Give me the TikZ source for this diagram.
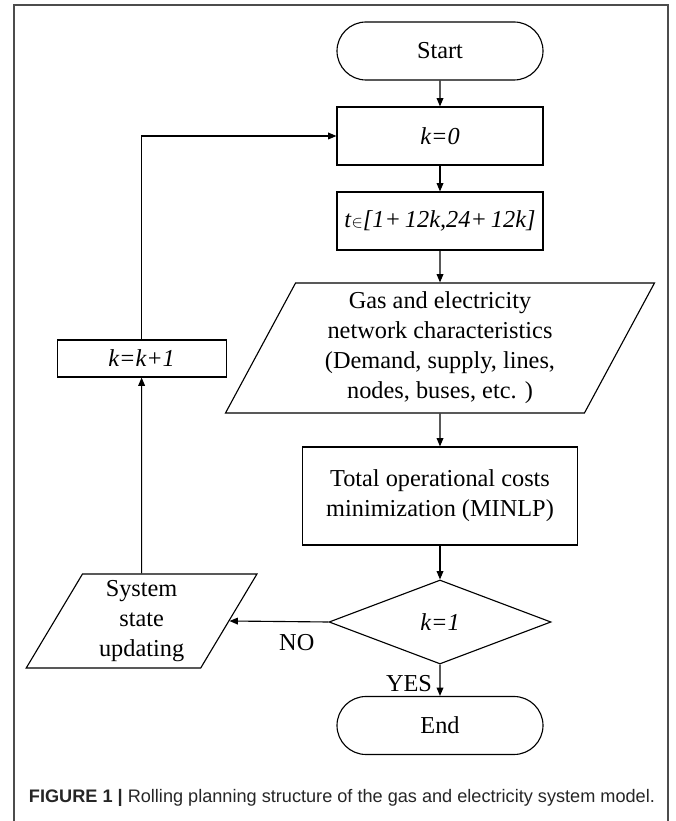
\documentclass[tikz,border=0pt]{standalone}
\usepackage{fontspec}
\setmainfont{Liberation Serif}
\newfontfamily\capfont{Liberation Sans}
\usetikzlibrary{shapes.geometric, shapes.misc, arrows.meta}

\tikzset{
  base/.style={draw, line width=0.8pt, align=center, inner sep=0pt,
    font=\fontsize{17.3}{21.3}\selectfont},
  terminal/.style={base, rounded rectangle, minimum width=5.15cm, minimum height=1.45cm},
  box/.style={base, rectangle, minimum width=5.15cm, minimum height=1.45cm},
  data/.style={base, trapezium, trapezium left angle=63.5, trapezium right angle=116.5,
    trapezium stretches=true},
  decision/.style={base, diamond, minimum width=5.55cm, minimum height=2.1cm},
  flow/.style={line width=0.8pt, -{Triangle[length=2.1mm, width=1.7mm]}}
}

\begin{document}
\begin{tikzpicture}
    \useasboundingbox (0,0) rectangle (16.875,20.525);

    % Frame around the figure
    \draw[black!70, line width=0.8pt] (0.35,0) -- (0.35,20.4) -- (16.7,20.4) -- (16.7,0);

    % Main column
    \node[terminal] (start) at (11.0,19.25) {Start};
    \node[box] (k0) at (11.0,17.125) {\textit{k=0}};
    \node[box] (trange) at (11.0,15.0) {\textit{t}$\scriptstyle\in$\textit{[1+\,12k,24+\,12k]}};
    \node[data, minimum width=10.75cm, minimum height=3.25cm] (net) at (11.0,11.825)
        {Gas and electricity\\network characteristics\\(Demand, supply, lines,\\nodes, buses, etc. )};
    \node[box, minimum width=6.875cm, minimum height=2.45cm] (opt) at (11.0,8.125)
        {Total operational costs\\minimization (MINLP)};
    \node[decision] (check) at (11.0,4.975) {\textit{k=1}};
    \node[terminal] (end) at (11.0,2.3875) {End};

    % Loop back column
    \node[data, minimum width=5.775cm, minimum height=2.35cm] (update) at (3.54,5.0)
        {System\\state\\updating};
    \node[box, minimum width=4.225cm, minimum height=0.925cm] (kinc) at (3.54,11.5625) {\textit{k=k+1}};

    % Connectors
    \draw[flow] (start) -- (k0);
    \draw[flow] (k0) -- (trange);
    \draw[flow] (trange) -- (net);
    \draw[flow] (net) -- (opt);
    \draw[flow] (opt) -- (check);
    \draw[flow] (check) -- node[pos=0.6, left=2pt, font=\fontsize{17.3}{21.3}\selectfont] {YES} (end);
    \draw[flow] (check.west) -- node[pos=0.32, below=5pt, font=\fontsize{17.3}{21.3}\selectfont] {NO} (update.east);
    \draw[flow] (update) -- (kinc);
    \draw[flow] (kinc.north) |- (k0.west);

    % Caption
    \node[anchor=base west, text=black!85, font=\capfont\fontsize{12.9}{15}\selectfont] (caption) at (0.6,0.45)
        {\textbf{FIGURE 1 |} Rolling planning structure of the gas and electricity system model.};
\end{tikzpicture}
\end{document}
